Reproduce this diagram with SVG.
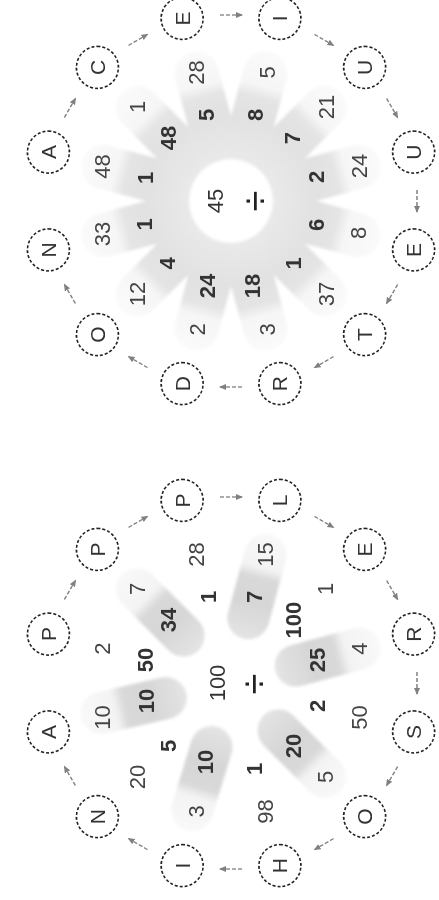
<svg xmlns="http://www.w3.org/2000/svg" xmlns:xlink="http://www.w3.org/1999/xlink" width="439" height="900" viewBox="0 0 439 900">
<style>
.node circle{fill:#fff;stroke:#222;stroke-width:1.6;stroke-dasharray:3 2}
.node text{font-family:"Liberation Sans",Arial,sans-serif;font-size:21px;fill:#333;text-anchor:middle;dominant-baseline:central}
.num{font-family:"Liberation Sans",Arial,sans-serif;font-size:22px;text-anchor:middle;dominant-baseline:central}
.in{font-weight:bold;fill:#333}
.out{fill:#444}
.ctr{fill:#333}
.div{font-size:38px;fill:#222}
#connectors line{stroke:#808080;stroke-width:1.3;stroke-dasharray:4 2;marker-end:url(#ah);fill:none}
</style>
<defs>
<marker id="ah" markerWidth="8" markerHeight="8" refX="6" refY="3.5" orient="auto" markerUnits="userSpaceOnUse">
<path d="M0,0.5 L7,3.5 L0,6.5 Z" fill="#808080"/>
</marker>
<filter id="soft" x="-20%" y="-20%" width="140%" height="140%"><feGaussianBlur stdDeviation="1.6"/></filter>
<filter id="soft2" x="-50%" y="-50%" width="200%" height="200%"><feGaussianBlur stdDeviation="4"/></filter>
<linearGradient id="gL" gradientUnits="userSpaceOnUse" x1="0" y1="-46" x2="0" y2="-154">
<stop offset="0" stop-color="#e4e4e4"/><stop offset="0.35" stop-color="#d6d6d6"/><stop offset="0.58" stop-color="#d9d9d9"/><stop offset="0.68" stop-color="#f3f3f3"/><stop offset="1" stop-color="#f9f9f9"/>
</linearGradient>
<linearGradient id="gR" gradientUnits="userSpaceOnUse" x1="0" y1="-30" x2="0" y2="-154">
<stop offset="0" stop-color="#ebebeb"/><stop offset="0.45" stop-color="#e1e1e1"/><stop offset="0.62" stop-color="#e4e4e4"/><stop offset="0.72" stop-color="#f6f6f6"/><stop offset="1" stop-color="#fafafa"/>
</linearGradient>
<rect id="pillL" x="-21" y="-154" width="42" height="108" rx="21" fill="url(#gL)"/>
<rect id="pillR" x="-22" y="-154" width="44" height="124" rx="22" fill="url(#gR)"/>
</defs>
<g transform="translate(0,900) rotate(-90)">
<g id="petals-left" filter="url(#soft)">
<use xlink:href="#pillL" transform="translate(217 231) rotate(45)"/>
<use xlink:href="#pillL" transform="translate(217 231) rotate(105)"/>
<use xlink:href="#pillL" transform="translate(217 231) rotate(165)"/>
<use xlink:href="#pillL" transform="translate(217 231) rotate(225)"/>
<use xlink:href="#pillL" transform="translate(217 231) rotate(287)"/>
<use xlink:href="#pillL" transform="translate(217 231) rotate(347)"/>
</g>
<g id="petals-right" filter="url(#soft)">
<use xlink:href="#pillR" transform="translate(699 231) rotate(15)"/>
<use xlink:href="#pillR" transform="translate(699 231) rotate(45)"/>
<use xlink:href="#pillR" transform="translate(699 231) rotate(75)"/>
<use xlink:href="#pillR" transform="translate(699 231) rotate(105)"/>
<use xlink:href="#pillR" transform="translate(699 231) rotate(135)"/>
<use xlink:href="#pillR" transform="translate(699 231) rotate(165)"/>
<use xlink:href="#pillR" transform="translate(699 231) rotate(195)"/>
<use xlink:href="#pillR" transform="translate(699 231) rotate(225)"/>
<use xlink:href="#pillR" transform="translate(699 231) rotate(255)"/>
<use xlink:href="#pillR" transform="translate(699 231) rotate(285)"/>
<use xlink:href="#pillR" transform="translate(699 231) rotate(315)"/>
<use xlink:href="#pillR" transform="translate(699 231) rotate(345)"/>
<circle cx="699" cy="231" r="42" fill="#fff"/>
</g>
<g id="numbers-left" class="num">
<text class="num ctr" x="217" y="217">100</text>
<text class="num div" x="216" y="254">÷</text>
<text class="num in" x="240" y="145">50</text><text class="num out" x="251.4" y="102.5">2</text>
<text class="num in" x="279.9" y="168.1">34</text><text class="num out" x="311" y="137">7</text>
<text class="num in" x="303" y="208">1</text><text class="num out" x="345.5" y="196.6">28</text>
<text class="num in" x="303" y="254">7</text><text class="num out" x="345.5" y="265.4">15</text>
<text class="num in" x="279.9" y="293.9">100</text><text class="num out" x="311" y="325">1</text>
<text class="num in" x="240" y="317">25</text><text class="num out" x="251.4" y="359.5">4</text>
<text class="num in" x="194" y="317">2</text><text class="num out" x="182.6" y="359.5">50</text>
<text class="num in" x="154.1" y="293.9">20</text><text class="num out" x="123" y="325">5</text>
<text class="num in" x="131" y="254">1</text><text class="num out" x="88.5" y="265.4">98</text>
<text class="num in" x="138" y="205">10</text><text class="num out" x="88.5" y="196.6">3</text>
<text class="num in" x="154.1" y="168.1">5</text><text class="num out" x="123" y="137">20</text>
<text class="num in" x="199" y="146">10</text><text class="num out" x="182.6" y="102.5">10</text>
</g>
<g id="numbers-right">
<text class="num ctr" x="699" y="215">45</text>
<text class="num div" x="699" y="255">÷</text>
<text class="num in" x="722" y="145">1</text><text class="num out" x="733.4" y="102.5">48</text>
<text class="num in" x="761.9" y="168.1">48</text><text class="num out" x="793" y="137">1</text>
<text class="num in" x="785" y="206">5</text><text class="num out" x="827.5" y="196.6">28</text>
<text class="num in" x="785" y="255">8</text><text class="num out" x="827.5" y="267">5</text>
<text class="num in" x="761.9" y="292">7</text><text class="num out" x="793" y="326">21</text>
<text class="num in" x="723" y="316">2</text><text class="num out" x="734" y="359">24</text>
<text class="num in" x="675" y="316">6</text><text class="num out" x="667" y="358.5">8</text>
<text class="num in" x="636.5" y="293.5">1</text><text class="num out" x="606" y="326">37</text>
<text class="num in" x="614" y="252">18</text><text class="num out" x="570.5" y="267">3</text>
<text class="num in" x="614" y="207">24</text><text class="num out" x="570.5" y="197">2</text>
<text class="num in" x="636.5" y="167.5">4</text><text class="num out" x="606" y="137">12</text>
<text class="num in" x="675.5" y="144">1</text><text class="num out" x="666" y="102.5">33</text>
</g>
<g id="connectors">
<line x1="300.5" y1="64.4" x2="319.5" y2="75.4"/>
<line x1="372.6" y1="128.5" x2="383.6" y2="147.5"/>
<line x1="403" y1="220" x2="403" y2="242"/>
<line x1="383.6" y1="314.5" x2="372.6" y2="333.5"/>
<line x1="319.5" y1="386.6" x2="300.5" y2="397.6"/>
<line x1="228" y1="417" x2="206" y2="417"/>
<line x1="133.5" y1="397.6" x2="114.5" y2="386.6"/>
<line x1="61.4" y1="333.5" x2="50.4" y2="314.5"/>
<line x1="31" y1="242" x2="31" y2="220"/>
<line x1="50.4" y1="147.5" x2="61.4" y2="128.5"/>
<line x1="114.5" y1="75.4" x2="133.5" y2="64.4"/>
<line x1="782.5" y1="64.4" x2="801.5" y2="75.4"/>
<line x1="854.6" y1="128.5" x2="865.6" y2="147.5"/>
<line x1="885" y1="220" x2="885" y2="242"/>
<line x1="865.6" y1="314.5" x2="854.6" y2="333.5"/>
<line x1="801.5" y1="386.6" x2="782.5" y2="397.6"/>
<line x1="710" y1="417" x2="688" y2="417"/>
<line x1="615.5" y1="397.6" x2="596.5" y2="386.6"/>
<line x1="543.4" y1="333.5" x2="532.4" y2="314.5"/>
<line x1="513" y1="242" x2="513" y2="220"/>
<line x1="532.4" y1="147.5" x2="543.4" y2="128.5"/>
<line x1="596.5" y1="75.4" x2="615.5" y2="64.4"/>
</g>
<g id="nodes-left">
<g id="nL1" class="node"><circle cx="265.9" cy="48.4" r="21"/><text x="265.9" y="48.4">P</text></g>
<g id="nL2" class="node"><circle cx="350.6" cy="97.4" r="21"/><text x="350.6" y="97.4">P</text></g>
<g id="nL3" class="node"><circle cx="399.6" cy="182.1" r="21"/><text x="399.6" y="182.1">P</text></g>
<g id="nL4" class="node"><circle cx="399.6" cy="279.9" r="21"/><text x="399.6" y="279.9">L</text></g>
<g id="nL5" class="node"><circle cx="350.6" cy="364.6" r="21"/><text x="350.6" y="364.6">E</text></g>
<g id="nL6" class="node"><circle cx="265.9" cy="413.6" r="21"/><text x="265.9" y="413.6">R</text></g>
<g id="nL7" class="node"><circle cx="168.1" cy="413.6" r="21"/><text x="168.1" y="413.6">S</text></g>
<g id="nL8" class="node"><circle cx="83.4" cy="364.6" r="21"/><text x="83.4" y="364.6">O</text></g>
<g id="nL9" class="node"><circle cx="34.4" cy="279.9" r="21"/><text x="34.4" y="279.9">H</text></g>
<g id="nL10" class="node"><circle cx="34.4" cy="182.1" r="21"/><text x="34.4" y="182.1">I</text></g>
<g id="nL11" class="node"><circle cx="83.4" cy="97.4" r="21"/><text x="83.4" y="97.4">N</text></g>
<g id="nL12" class="node"><circle cx="168.1" cy="48.4" r="21"/><text x="168.1" y="48.4">A</text></g>
</g>
<g id="nodes-right">
<g id="nR1" class="node"><circle cx="747.9" cy="48.4" r="21"/><text x="747.9" y="48.4">A</text></g>
<g id="nR2" class="node"><circle cx="832.6" cy="97.4" r="21"/><text x="832.6" y="97.4">C</text></g>
<g id="nR3" class="node"><circle cx="881.6" cy="182.1" r="21"/><text x="881.6" y="182.1">E</text></g>
<g id="nR4" class="node"><circle cx="881.6" cy="279.9" r="21"/><text x="881.6" y="279.9">I</text></g>
<g id="nR5" class="node"><circle cx="832.6" cy="364.6" r="21"/><text x="832.6" y="364.6">U</text></g>
<g id="nR6" class="node"><circle cx="747.9" cy="413.6" r="21"/><text x="747.9" y="413.6">U</text></g>
<g id="nR7" class="node"><circle cx="650.1" cy="413.6" r="21"/><text x="650.1" y="413.6">E</text></g>
<g id="nR8" class="node"><circle cx="565.4" cy="364.6" r="21"/><text x="565.4" y="364.6">T</text></g>
<g id="nR9" class="node"><circle cx="516.4" cy="279.9" r="21"/><text x="516.4" y="279.9">R</text></g>
<g id="nR10" class="node"><circle cx="516.4" cy="182.1" r="21"/><text x="516.4" y="182.1">D</text></g>
<g id="nR11" class="node"><circle cx="565.4" cy="97.4" r="21"/><text x="565.4" y="97.4">O</text></g>
<g id="nR12" class="node"><circle cx="650.1" cy="48.4" r="21"/><text x="650.1" y="48.4">N</text></g>
</g>
</g>
</svg>
